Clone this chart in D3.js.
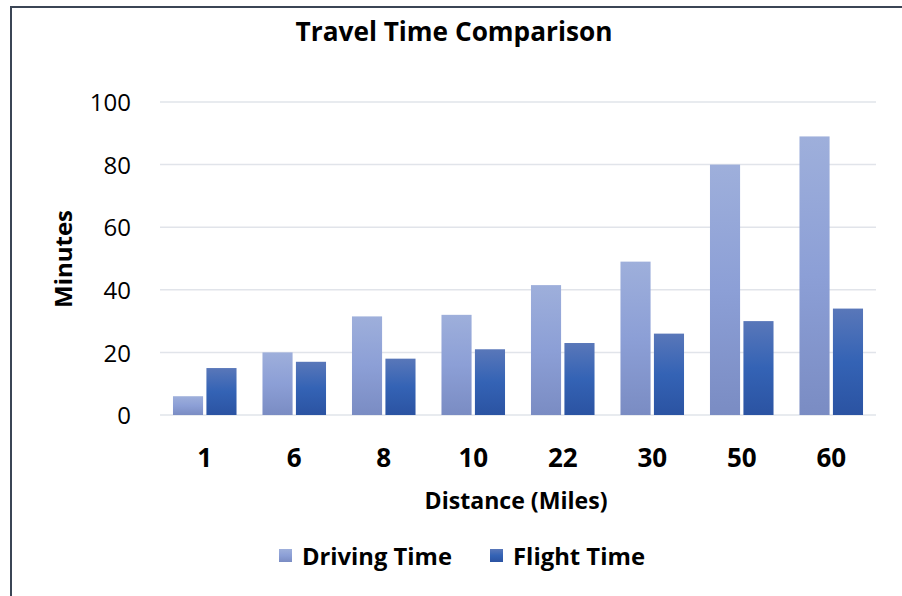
<!DOCTYPE html>
<html>
<head>
<meta charset="utf-8">
<script src="https://cdn.jsdelivr.net/npm/d3@7"></script>
<style>
  html, body { margin: 0; padding: 0; background: #fff; }
  svg { display: block; }
  text { font-family: "Open Sans", sans-serif; fill: #000; }
</style>
</head>
<body>
<svg id="chart" width="902" height="596"></svg>
<script>
const categories = ["1", "6", "8", "10", "22", "30", "50", "60"];
const seriesNames = ["Driving Time", "Flight Time"];
const drivingTime = [6, 20, 31.5, 32, 41.5, 49, 80, 89];
const flightTime = [15, 17, 18, 21, 23, 26, 30, 34];
const yTicks = [0, 20, 40, 60, 80, 100];

const W = 902, H = 596;
const margin = { left: 160, right: 26, top: 102, bottom: 181 };
const svg = d3.select("#chart");

// fit text width to a target by adjusting font size
function fit(sel, target) {
  sel.each(function () {
    const w = this.getComputedTextLength();
    const fs = parseFloat(this.getAttribute("font-size"));
    if (w > 0) this.setAttribute("font-size", (fs * target / w).toFixed(2));
  });
}

// outer border
svg.append("rect").attr("x", 11).attr("y", 7).attr("width", W + 20).attr("height", H + 20)
  .attr("fill", "#fff").attr("stroke", "#3b4555").attr("stroke-width", 2);

const defs = svg.append("defs");
function grad(id, stops) {
  const g = defs.append("linearGradient").attr("id", id)
    .attr("x1", 0).attr("y1", 0).attr("x2", 0).attr("y2", 1);
  stops.forEach(s => g.append("stop").attr("offset", s[0]).attr("stop-color", s[1]));
}
grad("gDrive", [[0, "#9eafdb"], [0.5, "#8c9fd6"], [1, "#7a8cc3"]]);
grad("gFlight", [[0, "#5977b9"], [0.5, "#3463b5"], [1, "#2b53a2"]]);

const x0 = d3.scaleBand().domain(categories).range([margin.left, W - margin.right]).paddingInner(0.29).paddingOuter(0.145);
const x1 = d3.scaleBand().domain(seriesNames).range([0, x0.bandwidth()]).paddingInner(0.1);
const y = d3.scaleLinear().domain([0, 100]).range([H - margin.bottom, margin.top]);

// gridlines
svg.append("g").selectAll("line").data(yTicks).join("line")
  .attr("x1", margin.left).attr("x2", W - margin.right)
  .attr("y1", d => y(d)).attr("y2", d => y(d))
  .attr("stroke", "#e1e4ea").attr("stroke-width", 1.5);

// y tick labels
const yAxis = d3.axisLeft(y).tickValues(yTicks).tickSize(0).tickPadding(0);
const ya = svg.append("g").attr("transform", `translate(${margin.left - 29},0)`).call(yAxis);
ya.select(".domain").remove();
ya.selectAll("text").attr("font-size", 24).attr("font-family", "'Open Sans', sans-serif").attr("fill", "#000").attr("dy", "0.36em");

// x tick labels
const xAxis = d3.axisBottom(x0).tickSize(0).tickPadding(0);
const xa = svg.append("g").attr("transform", `translate(0,${y(0) + 52})`).call(xAxis);
xa.select(".domain").remove();
xa.selectAll("text").attr("font-size", 26).attr("font-weight", "bold").attr("font-family", "'Open Sans', sans-serif").attr("fill", "#000").attr("dy", 0);

// bars
const data = categories.map((c, i) => ({ c, vals: [drivingTime[i], flightTime[i]] }));
const groups = svg.append("g").selectAll("g").data(data).join("g")
  .attr("transform", d => `translate(${x0(d.c)},0)`);
groups.selectAll("rect").data(d => d.vals.map((v, j) => ({ s: seriesNames[j], v, j })))
  .join("rect")
  .attr("x", d => x1(d.s)).attr("width", x1.bandwidth())
  .attr("y", d => y(d.v)).attr("height", d => y(0) - y(d.v))
  .attr("fill", d => d.j === 0 ? "url(#gDrive)" : "url(#gFlight)");

// title
svg.append("text").attr("x", 454).attr("y", 41).attr("text-anchor", "middle")
  .attr("font-size", 23).attr("font-weight", "bold").text("Travel Time Comparison")
  .call(fit, 317);

// axis titles
svg.append("text").attr("x", 516).attr("y", 509).attr("text-anchor", "middle")
  .attr("font-size", 20).attr("font-weight", "bold").text("Distance (Miles)")
  .call(fit, 183);
svg.append("text").attr("transform", "translate(72,259) rotate(-90)").attr("text-anchor", "middle")
  .attr("font-size", 20).attr("font-weight", "bold").text("Minutes")
  .call(fit, 98);

// legend
const legendPos = [279, 490];
const legendW = [150, 132];
const lg = svg.append("g").selectAll("g").data(seriesNames).join("g")
  .attr("transform", (d, i) => `translate(${legendPos[i]},0)`);
lg.append("rect").attr("x", 0).attr("y", 549).attr("width", 13).attr("height", 13)
  .attr("fill", (d, i) => i === 0 ? "url(#gDrive)" : "url(#gFlight)");
lg.append("text").attr("x", 23).attr("y", 565).attr("font-size", 22).attr("font-weight", "bold").text(d => d)
  .each(function (d, i) { d3.select(this).call(fit, legendW[i]); });
</script>
</body>
</html>
